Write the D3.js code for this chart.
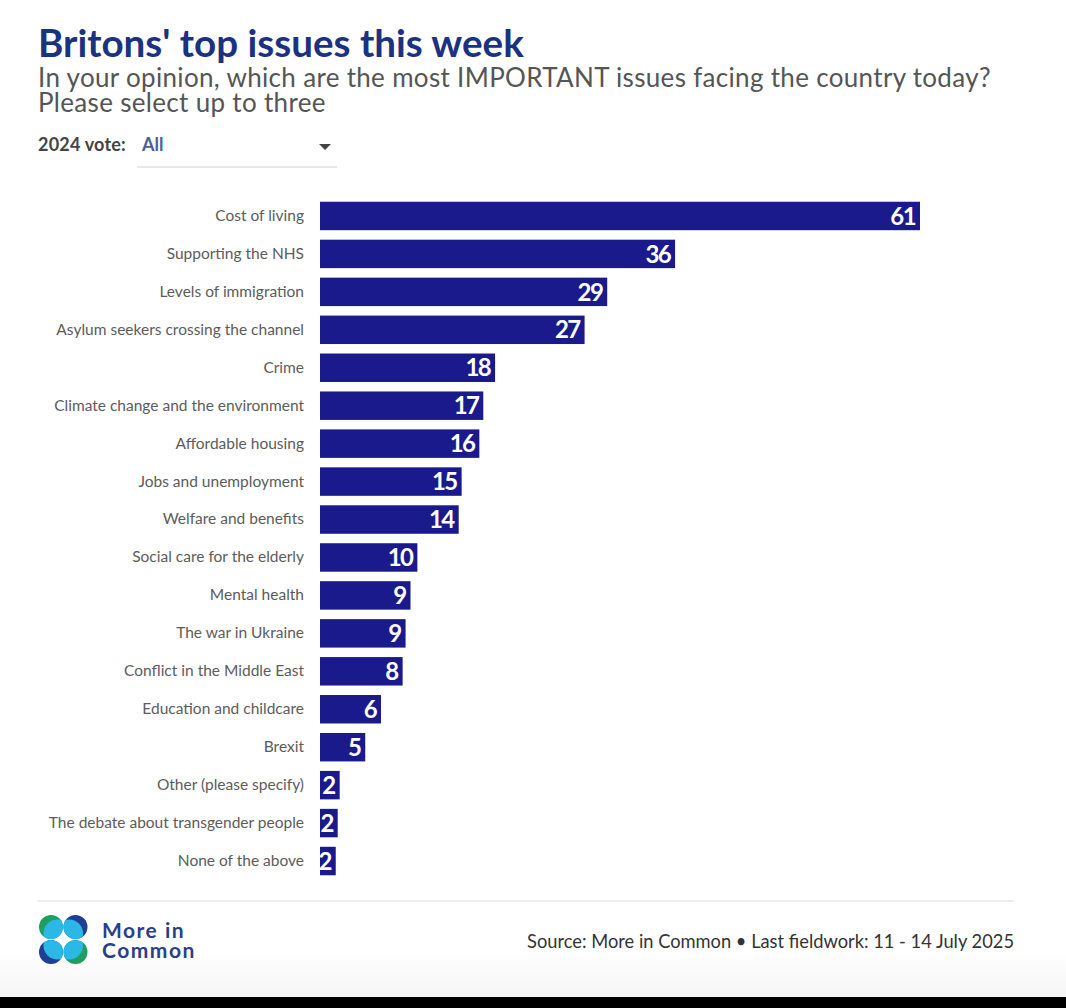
<!DOCTYPE html>
<html>
<head>
<meta charset="utf-8">
<script src="https://cdn.jsdelivr.net/npm/d3@7"></script>
<style>
  html, body { margin: 0; padding: 0; background: #fff; }
  svg { display: block; }
  text { font-family: Lato, "Open Sans", sans-serif; }
</style>
</head>
<body>
<svg class="chart" width="1066" height="1008"></svg>
<script>
var issues = ["Cost of living", "Supporting the NHS", "Levels of immigration",
  "Asylum seekers crossing the channel", "Crime", "Climate change and the environment",
  "Affordable housing", "Jobs and unemployment", "Welfare and benefits",
  "Social care for the elderly", "Mental health", "The war in Ukraine",
  "Conflict in the Middle East", "Education and childcare", "Brexit",
  "Other (please specify)", "The debate about transgender people", "None of the above"];

// unrounded shares
var shares = [61, 36.1, 29.2, 26.9, 17.8, 16.6, 16.2, 14.4, 14.1, 9.9, 9.2, 8.7, 8.4, 6.2, 4.6, 2, 1.8, 1.6];

// labels as printed on the bars
var shareLabels = ["61", "36", "29", "27", "18", "17", "16", "15", "14", "10", "9", "9", "8", "6", "5", "2", "2", "2"];

var svg = d3.select(".chart");

var defs = svg.append("defs");
var fade = defs.append("linearGradient").attr("id", "pageFade")
  .attr("x1", 0).attr("x2", 0).attr("y1", 0).attr("y2", 1);
fade.append("stop").attr("offset", 0).attr("stop-color", "#ffffff");
fade.append("stop").attr("offset", 1).attr("stop-color", "#f5f5f5");

svg.append("rect").attr("width", 1066).attr("height", 1008).attr("fill", "#fff");
svg.append("rect").attr("y", 950).attr("width", 1066).attr("height", 47).attr("fill", "url(#pageFade)");
svg.append("rect").attr("y", 997).attr("width", 1066).attr("height", 11).attr("fill", "#000");

// header
svg.append("text").attr("x", 38).attr("y", 57)
  .attr("font-size", 38.6).attr("font-weight", 700).attr("fill", "#1b3281")
  .text("Britons' top issues this week");

svg.append("text").attr("x", 38).attr("y", 87)
  .attr("font-size", 26).attr("letter-spacing", 0.32).attr("fill", "#555")
  .text("In your opinion, which are the most IMPORTANT issues facing the country today?");

svg.append("text").attr("x", 38).attr("y", 112)
  .attr("font-size", 26).attr("letter-spacing", 0.32).attr("fill", "#555")
  .text("Please select up to three");

// dropdown
svg.append("text").attr("x", 38).attr("y", 151)
  .attr("font-size", 18).attr("font-weight", 700).attr("letter-spacing", 0.2).attr("fill", "#444")
  .text("2024 vote:");

svg.append("text").attr("x", 142).attr("y", 151)
  .attr("font-size", 18).attr("font-weight", 700).attr("fill", "#4a5ea0")
  .text("All");

svg.append("path").attr("d", "M319,144 L331,144 L325,150 Z").attr("fill", "#444");

svg.append("line").attr("x1", 137).attr("x2", 337).attr("y1", 167).attr("y2", 167)
  .attr("stroke", "#dde0e6").attr("stroke-width", 1.5);

// bars
var scaleX = d3.scaleLinear().domain([0, 61]).range([320, 920]);

var scaleY = d3.scaleBand().domain(issues).range([197, 880])
  .paddingInner(0.25).paddingOuter(0.125);

var yAxis = d3.axisLeft().scale(scaleY).tickSize(0).tickPadding(16);

var axisGroup = svg.append("g")
  .attr("transform", "translate(320,0)")
  .call(yAxis);
axisGroup.select(".domain").remove();
axisGroup.selectAll("text")
  .attr("font-size", 15.5).attr("fill", "#5c5c5c")
  .style("font-family", "Lato, 'Open Sans', sans-serif");

svg.selectAll(".bar").data(shares).enter().append("rect")
  .attr("class", "bar")
  .attr("x", scaleX(0))
  .attr("y", function(d, i) { return scaleY(issues[i]); })
  .attr("width", function(d) { return scaleX(d) - scaleX(0); })
  .attr("height", scaleY.bandwidth())
  .attr("fill", "#1a1a8c");

svg.selectAll(".barLabel").data(shares).enter().append("text")
  .attr("class", "barLabel")
  .attr("x", function(d) { return scaleX(d) - 5; })
  .attr("y", function(d, i) { return scaleY(issues[i]) + scaleY.bandwidth() / 2; })
  .attr("dy", "0.36em")
  .attr("text-anchor", "end")
  .attr("font-size", 24).attr("font-weight", 700).attr("letter-spacing", -1.6).attr("fill", "#fff")
  .text(function(d, i) { return shareLabels[i]; });

// footer
svg.append("line").attr("x1", 38).attr("x2", 1014).attr("y1", 901).attr("y2", 901)
  .attr("stroke", "#e8e8e8").attr("stroke-width", 1.5);

svg.append("text").attr("x", 1014).attr("y", 948)
  .attr("text-anchor", "end").attr("font-size", 18.3).attr("fill", "#333")
  .text("Source: More in Common \u2022 Last fieldwork: 11 - 14 July 2025");

svg.append("text").attr("x", 102).attr("y", 938)
  .attr("font-size", 21).attr("font-weight", 700).attr("letter-spacing", 1.5).attr("fill", "#2a3f8a")
  .text("More in");
svg.append("text").attr("x", 102).attr("y", 958)
  .attr("font-size", 21).attr("font-weight", 700).attr("letter-spacing", 1.5).attr("fill", "#2a3f8a")
  .text("Common");

// logo, four overlapping petals
function drawPetal(id, cx, cy, dx, dy, colour) {
  defs.append("clipPath").attr("id", id).append("circle")
    .attr("cx", cx).attr("cy", cy).attr("r", 12);
  svg.append("circle").attr("cx", cx).attr("cy", cy).attr("r", 12).attr("fill", colour);
  svg.append("circle").attr("cx", cx + dx * 6.5).attr("cy", cy + dy * 6.5).attr("r", 14)
    .attr("fill", "#2bb8e6").attr("clip-path", "url(#" + id + ")");
}
drawPetal("petalA", 51, 927, 1, 1, "#1f9e5f");
drawPetal("petalB", 75.5, 927, -1, 1, "#1f3f94");
drawPetal("petalC", 51, 952, 1, -1, "#1f3f94");
drawPetal("petalD", 75.5, 952, -1, -1, "#1f9e5f");
</script>
</body>
</html>
